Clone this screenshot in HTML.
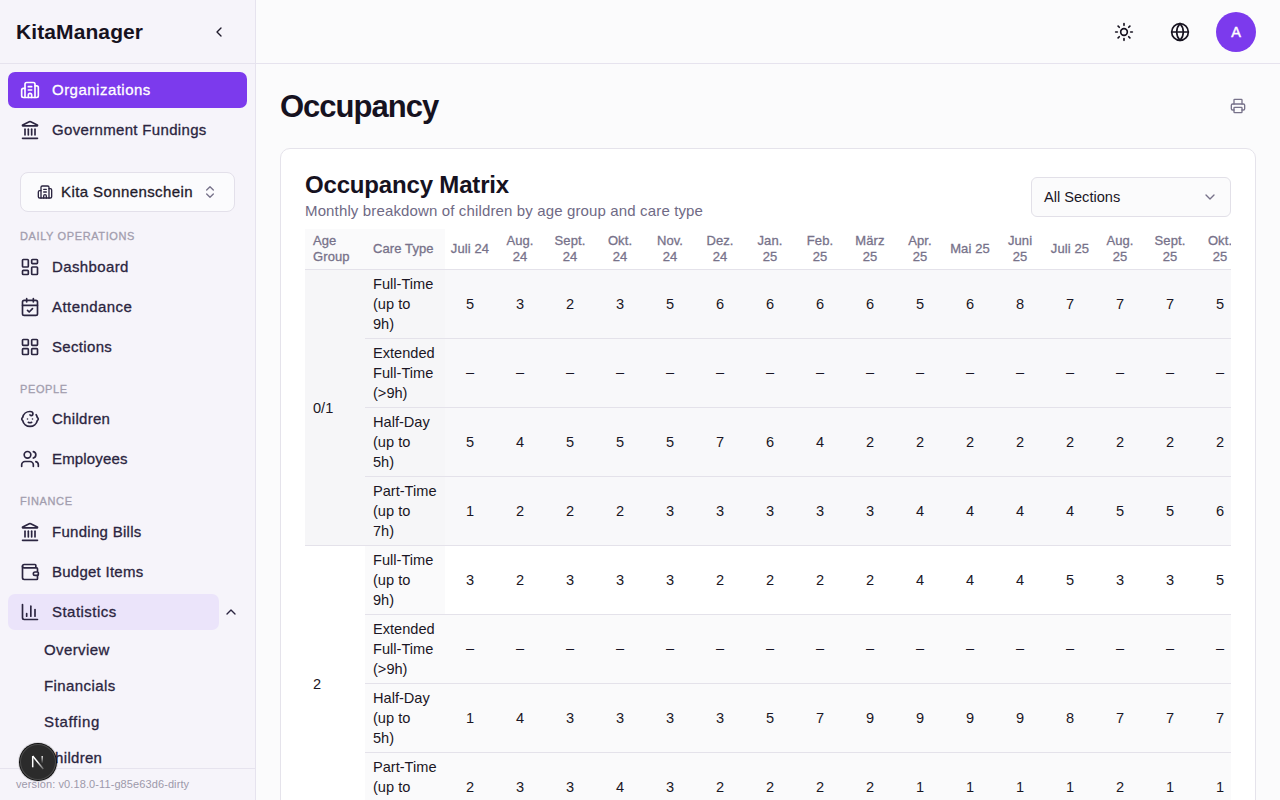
<!DOCTYPE html>
<html lang="en">
<head>
<meta charset="utf-8">
<title>Occupancy - KitaManager</title>
<style>
*{box-sizing:border-box;margin:0;padding:0}
html,body{width:1280px;height:800px;overflow:hidden}
body{font-family:"Liberation Sans",sans-serif;color:#1a1625;background:#fbfbfc;position:relative}
svg{display:block;fill:none;stroke:currentColor;stroke-width:2;stroke-linecap:round;stroke-linejoin:round}

/* ---------- sidebar ---------- */
#sidebar{position:absolute;left:0;top:0;width:256px;height:800px;background:#f6f4fa;border-right:1px solid #e6e3ee;overflow:hidden}
#brand{position:absolute;left:0;top:0;width:255px;height:64px;border-bottom:1px solid #e6e3ee}
#brand .name{position:absolute;left:16px;top:19px;font-size:21px;font-weight:700;letter-spacing:.1px;color:#16121f;line-height:26px}
#brand .collapse{position:absolute;left:211px;top:24px;width:16px;height:16px;color:#1f1a2b}
.nav{position:absolute;left:8px;width:239px;height:36px;border-radius:7px;color:#2b2540;font-size:15px;font-weight:400;-webkit-text-stroke:.3px currentColor}
.nav svg{position:absolute;left:12px;top:8px;width:20px;height:20px}
.nav span{position:absolute;left:44px;top:0;line-height:35px;white-space:nowrap;letter-spacing:.45px}
.nav.active{background:#7c3aed;color:#fff}
.nav.soft{background:#ebe4fa;width:211px}
.grp{position:absolute;left:20px;font-size:11px;font-weight:400;-webkit-text-stroke:.3px currentColor;letter-spacing:.62px;color:#a29dae;line-height:14px;text-transform:uppercase}
.sub{position:absolute;left:44px;font-size:15px;font-weight:400;-webkit-text-stroke:.3px currentColor;color:#2b2540;line-height:20px;letter-spacing:.45px;white-space:nowrap}
#orgsel{position:absolute;left:20px;top:172px;width:215px;height:40px;border:1px solid #e3e0ea;border-radius:8px;background:#fbfbfd}
#orgsel .ic{position:absolute;left:16px;top:11px;width:16px;height:16px;color:#2b2540}
#orgsel .tx{position:absolute;left:40px;top:0;line-height:38px;font-size:15px;font-weight:400;-webkit-text-stroke:.3px currentColor;color:#1f1a2b;letter-spacing:.4px;white-space:nowrap}
#orgsel .ch{position:absolute;left:181px;top:11px;width:16px;height:16px;color:#77728a}
#foot{position:absolute;left:0;top:768px;width:255px;height:32px;border-top:1px solid #e6e3ee;background:#f6f4fa}
#foot span{position:absolute;left:16px;top:8px;font-size:11px;line-height:14px;color:#9d99aa;letter-spacing:.1px;white-space:nowrap}
#nbadge{position:absolute;left:20px;top:744px;width:36px;height:36px;border-radius:50%;background:#2b2b2b;box-shadow:inset 0 0 0 1px #4a4a4a,0 0 0 1px #0c0c0c,0 0 0 2px rgba(0,0,0,.12)}
#nbadge svg{position:absolute;left:0;top:0;width:36px;height:36px;stroke-width:1.5;stroke-linecap:butt}

/* ---------- header ---------- */
#top{position:absolute;left:256px;top:0;width:1024px;height:64px;border-bottom:1px solid #e6e3ee;background:#fbfbfc}
#top .sun{position:absolute;left:858px;top:22px;width:20px;height:20px;color:#16121f}
#top .globe{position:absolute;left:914px;top:22px;width:20px;height:20px;color:#16121f}
#avatar{position:absolute;left:960px;top:12px;width:40px;height:40px;border-radius:50%;background:#7c3aed;color:#fff;font-size:14.5px;font-weight:400;-webkit-text-stroke:.45px #fff;text-align:center;line-height:40px}

/* ---------- main ---------- */
#h1{position:absolute;left:280px;top:87px;font-size:31px;font-weight:700;line-height:40px;color:#16121f;letter-spacing:-1px;white-space:nowrap}
#print{position:absolute;left:1230px;top:98px;width:16px;height:16px;color:#77728a}
#card{position:absolute;left:280px;top:148px;width:976px;height:700px;background:#fff;border:1px solid #e5e3eb;border-radius:10px}
#ctitle{position:absolute;left:305px;top:169px;font-size:24px;font-weight:700;line-height:32px;color:#16121f;white-space:nowrap;letter-spacing:-.17px}
#csub{position:absolute;left:305px;top:201px;font-size:15px;line-height:20px;color:#6f6a85;white-space:nowrap;letter-spacing:.14px}
#sel{position:absolute;left:1031px;top:177px;width:200px;height:40px;border:1px solid #e2e0e8;border-radius:6px;background:#fbfbfc}
#sel span{position:absolute;left:12px;top:0;line-height:38px;font-size:14.6px;color:#1a1625;white-space:nowrap}
#sel svg{position:absolute;left:170px;top:11px;width:16px;height:16px;color:#77728a}

/* ---------- table ---------- */
#tw{position:absolute;left:305px;top:229px;width:926px;height:571px;overflow:hidden}
table{border-collapse:separate;border-spacing:0;table-layout:fixed;width:1040px}
th,td{height:69px;border-bottom:1px solid #e4e2ea;font-size:14.6px;line-height:20px;text-align:center;vertical-align:middle;font-weight:400;color:#1a1625;padding:0}
th{height:41px;font-size:13px;line-height:16px;color:#77728a;font-weight:400;-webkit-text-stroke:.3px currentColor;letter-spacing:.1px}
th.l,td.l{text-align:left;padding-left:8px}
col.a{width:60px}col.c{width:80px}col.m{width:50px}

tr.hd th.s{background:#fafafb}
tr.g1 td{background:#f8f8fa}
tr.g1 td.ct{background:#f6f6f8}
tr.g1 td.ag{background:#f6f6f8}
td.d{padding-bottom:2px}
tr.g2 td{background:#fafafb}
tr.g2.first td{background:#fff}
tr.g2 td.ct{background:#fafafb}
tr.g2 td.ag{background:#fff}
</style>
</head>
<body>

<div id="sidebar">
  <div id="brand">
    <div class="name">KitaManager</div>
    <svg class="collapse" viewBox="0 0 24 24"><path d="m15 18-6-6 6-6"/></svg>
  </div>
  <div class="nav active" style="top:72px"><svg viewBox="0 0 24 24"><path d="M10 12h4"/><path d="M10 8h4"/><path d="M14 21v-3a2 2 0 0 0-4 0v3"/><path d="M6 10H4a2 2 0 0 0-2 2v7a2 2 0 0 0 2 2h16a2 2 0 0 0 2-2V9a2 2 0 0 0-2-2h-2"/><path d="M6 21V5a2 2 0 0 1 2-2h8a2 2 0 0 1 2 2v16"/></svg><span style="letter-spacing:0.48px">Organizations</span></div>
  <div class="nav " style="top:112px"><svg viewBox="0 0 24 24"><path d="M10 18v-7"/><path d="M11.12 2.198a2 2 0 0 1 1.760.006l7.866 3.847c.476.233.31.949-.22.949H3.474c-.53 0-.695-.716-.22-.949z"/><path d="M14 18v-7"/><path d="M18 18v-7"/><path d="M3 22h18"/><path d="M6 18v-7"/></svg><span style="letter-spacing:0.33px">Government Fundings</span></div>
  <div id="orgsel"><svg class="ic" viewBox="0 0 24 24"><path d="M10 12h4"/><path d="M10 8h4"/><path d="M14 21v-3a2 2 0 0 0-4 0v3"/><path d="M6 10H4a2 2 0 0 0-2 2v7a2 2 0 0 0 2 2h16a2 2 0 0 0 2-2V9a2 2 0 0 0-2-2h-2"/><path d="M6 21V5a2 2 0 0 1 2-2h8a2 2 0 0 1 2 2v16"/></svg><div class="tx">Kita Sonnenschein</div><svg class="ch" viewBox="0 0 24 24"><path d="m7 15 5 5 5-5"/><path d="m7 9 5-5 5 5"/></svg></div>
  <div class="grp" style="top:229px">Daily Operations</div>
  <div class="nav " style="top:249px"><svg viewBox="0 0 24 24"><rect width="7" height="9" x="3" y="3" rx="1"/><rect width="7" height="5" x="14" y="3" rx="1"/><rect width="7" height="9" x="14" y="12" rx="1"/><rect width="7" height="5" x="3" y="16" rx="1"/></svg><span style="letter-spacing:0.37px">Dashboard</span></div>
  <div class="nav " style="top:289px"><svg viewBox="0 0 24 24"><path d="M8 2v4"/><path d="M16 2v4"/><rect width="18" height="18" x="3" y="4" rx="2"/><path d="M3 10h18"/><path d="m9 16 2 2 4-4"/></svg><span style="letter-spacing:0.43px">Attendance</span></div>
  <div class="nav " style="top:329px"><svg viewBox="0 0 24 24"><rect width="7" height="7" x="3" y="3" rx="1"/><rect width="7" height="7" x="14" y="3" rx="1"/><rect width="7" height="7" x="14" y="14" rx="1"/><rect width="7" height="7" x="3" y="14" rx="1"/></svg><span style="letter-spacing:0.33px">Sections</span></div>
  <div class="grp" style="top:382px">People</div>
  <div class="nav " style="top:401px"><svg viewBox="0 0 24 24"><path d="M10 16c.5.3 1.200.5 2 .5s1.500-.2 2-.5"/><path d="M15 12h.01"/><path d="M19.380 6.813A9 9 0 0 1 20.800 10.200a2 2 0 0 1 0 3.600 9 9 0 0 1-17.600 0 2 2 0 0 1 0-3.600A9 9 0 0 1 12 3c2 0 3.500 1.100 3.500 2.500s-.9 2.500-2 2.500c-.8 0-1.500-.4-1.500-1"/><path d="M9 12h.01"/></svg><span style="letter-spacing:0.29px">Children</span></div>
  <div class="nav " style="top:441px"><svg viewBox="0 0 24 24"><path d="M16 21v-2a4 4 0 0 0-4-4H6a4 4 0 0 0-4 4v2"/><circle cx="9" cy="7" r="4"/><path d="M22 21v-2a4 4 0 0 0-3-3.870"/><path d="M16 3.130a4 4 0 0 1 0 7.750"/></svg><span style="letter-spacing:0.15px">Employees</span></div>
  <div class="grp" style="top:494px">Finance</div>
  <div class="nav " style="top:514px"><svg viewBox="0 0 24 24"><path d="M10 18v-7"/><path d="M11.12 2.198a2 2 0 0 1 1.760.006l7.866 3.847c.476.233.31.949-.22.949H3.474c-.53 0-.695-.716-.22-.949z"/><path d="M14 18v-7"/><path d="M18 18v-7"/><path d="M3 22h18"/><path d="M6 18v-7"/></svg><span style="letter-spacing:0.29px">Funding Bills</span></div>
  <div class="nav " style="top:554px"><svg viewBox="0 0 24 24"><path d="M19 7V4a1 1 0 0 0-1-1H5a2 2 0 0 0 0 4h15a1 1 0 0 1 1 1v4h-3a2 2 0 0 0 0 4h3a1 1 0 0 0 1-1v-2a1 1 0 0 0-1-1"/><path d="M3 5v14a2 2 0 0 0 2 2h15a1 1 0 0 0 1-1v-4"/></svg><span style="letter-spacing:0.25px">Budget Items</span></div>
  <div class="nav soft" style="top:594px"><svg viewBox="0 0 24 24"><path d="M3 3v16a2 2 0 0 0 2 2h16"/><path d="M18 17V9"/><path d="M13 17V5"/><path d="M8 17v-3"/></svg><span style="letter-spacing:0.46px">Statistics</span></div>
  <svg style="position:absolute;left:223px;top:604px;width:16px;height:16px;color:#2b2540" viewBox="0 0 24 24"><path d="m18 15-6-6-6 6"/></svg>
  <div class="sub" style="top:640px;letter-spacing:0.4px">Overview</div>
  <div class="sub" style="top:676px;letter-spacing:0.42px">Financials</div>
  <div class="sub" style="top:712px;letter-spacing:0.67px">Staffing</div>
  <div class="sub" style="top:748px;letter-spacing:0.29px">Children</div>
  <div id="foot"><span>version: v0.18.0-11-g85e63d6-dirty</span></div>
  <div id="nbadge"><svg viewBox="0 0 36 36"><defs><linearGradient id="ng1" gradientUnits="userSpaceOnUse" x1="17" y1="18" x2="23.300" y2="25"><stop offset="0" stop-color="#fff"/><stop offset="1" stop-color="#fff" stop-opacity=".25"/></linearGradient><linearGradient id="ng2" gradientUnits="userSpaceOnUse" x1="22" y1="12" x2="22" y2="19.500"><stop offset="0" stop-color="#fff" stop-opacity=".9"/><stop offset="1" stop-color="#fff" stop-opacity="0"/></linearGradient></defs><path d="M12.700 23.300V12" stroke="#fff"/><path d="M12.700 12L23.300 25" stroke="url(#ng1)"/><path d="M22.200 12V19.500" stroke="url(#ng2)"/></svg></div>
</div>

<div id="top">
  <svg class="sun" viewBox="0 0 24 24"><circle cx="12" cy="12" r="4"/><path d="M12 2v2"/><path d="M12 20v2"/><path d="m4.930 4.930 1.410 1.410"/><path d="m17.660 17.660 1.410 1.410"/><path d="M2 12h2"/><path d="M20 12h2"/><path d="m6.340 17.660-1.410 1.410"/><path d="m19.070 4.930-1.410 1.410"/></svg>
  <svg class="globe" viewBox="0 0 24 24"><circle cx="12" cy="12" r="10"/><path d="M12 2a14.500 14.500 0 0 0 0 20 14.500 14.500 0 0 0 0-20"/><path d="M2 12h20"/></svg>
  <div id="avatar">A</div>
</div>

<div id="h1">Occupancy</div>
<svg id="print" viewBox="0 0 24 24"><path d="M6 18H4a2 2 0 0 1-2-2v-5a2 2 0 0 1 2-2h16a2 2 0 0 1 2 2v5a2 2 0 0 1-2 2h-2"/><path d="M6 9V3a1 1 0 0 1 1-1h10a1 1 0 0 1 1 1v6"/><rect x="6" y="14" width="12" height="8" rx="1"/></svg>
<div id="card"></div>
<div id="ctitle">Occupancy Matrix</div>
<div id="csub">Monthly breakdown of children by age group and care type</div>
<div id="sel"><span>All Sections</span><svg viewBox="0 0 24 24"><path d="m6 9 6 6 6-6"/></svg></div>
<div id="tw"><table>
<colgroup><col class="a"><col class="c"><col class="m"><col class="m"><col class="m"><col class="m"><col class="m"><col class="m"><col class="m"><col class="m"><col class="m"><col class="m"><col class="m"><col class="m"><col class="m"><col class="m"><col class="m"><col class="m"><col class="m"><col class="m"></colgroup>
<tr class="hd"><th class="l s">Age<br>Group</th><th class="l s">Care Type</th><th>Juli&nbsp;24</th><th>Aug.<br>24</th><th>Sept.<br>24</th><th>Okt.<br>24</th><th>Nov.<br>24</th><th>Dez.<br>24</th><th>Jan.<br>25</th><th>Feb.<br>25</th><th>März<br>25</th><th>Apr.<br>25</th><th>Mai&nbsp;25</th><th>Juni<br>25</th><th>Juli&nbsp;25</th><th>Aug.<br>25</th><th>Sept.<br>25</th><th>Okt.<br>25</th><th>Nov.<br>25</th><th>Dez.<br>25</th></tr>
<tr class="g1 first"><td class="l ag" rowspan="4">0/1</td><td class="l ct">Full-Time<br>(up to<br>9h)</td><td>5</td><td>3</td><td>2</td><td>3</td><td>5</td><td>6</td><td>6</td><td>6</td><td>6</td><td>5</td><td>6</td><td>8</td><td>7</td><td>7</td><td>7</td><td>5</td><td>5</td><td>5</td></tr>
<tr class="g1"><td class="l ct">Extended<br>Full-Time<br>(&gt;9h)</td><td class="d">–</td><td class="d">–</td><td class="d">–</td><td class="d">–</td><td class="d">–</td><td class="d">–</td><td class="d">–</td><td class="d">–</td><td class="d">–</td><td class="d">–</td><td class="d">–</td><td class="d">–</td><td class="d">–</td><td class="d">–</td><td class="d">–</td><td class="d">–</td><td class="d">–</td><td class="d">–</td></tr>
<tr class="g1"><td class="l ct">Half-Day<br>(up to<br>5h)</td><td>5</td><td>4</td><td>5</td><td>5</td><td>5</td><td>7</td><td>6</td><td>4</td><td>2</td><td>2</td><td>2</td><td>2</td><td>2</td><td>2</td><td>2</td><td>2</td><td>2</td><td>2</td></tr>
<tr class="g1"><td class="l ct">Part-Time<br>(up to<br>7h)</td><td>1</td><td>2</td><td>2</td><td>2</td><td>3</td><td>3</td><td>3</td><td>3</td><td>3</td><td>4</td><td>4</td><td>4</td><td>4</td><td>5</td><td>5</td><td>6</td><td>6</td><td>6</td></tr>
<tr class="g2 first"><td class="l ag" rowspan="4">2</td><td class="l ct">Full-Time<br>(up to<br>9h)</td><td>3</td><td>2</td><td>3</td><td>3</td><td>3</td><td>2</td><td>2</td><td>2</td><td>2</td><td>4</td><td>4</td><td>4</td><td>5</td><td>3</td><td>3</td><td>5</td><td>5</td><td>5</td></tr>
<tr class="g2"><td class="l ct">Extended<br>Full-Time<br>(&gt;9h)</td><td class="d">–</td><td class="d">–</td><td class="d">–</td><td class="d">–</td><td class="d">–</td><td class="d">–</td><td class="d">–</td><td class="d">–</td><td class="d">–</td><td class="d">–</td><td class="d">–</td><td class="d">–</td><td class="d">–</td><td class="d">–</td><td class="d">–</td><td class="d">–</td><td class="d">–</td><td class="d">–</td></tr>
<tr class="g2"><td class="l ct">Half-Day<br>(up to<br>5h)</td><td>1</td><td>4</td><td>3</td><td>3</td><td>3</td><td>3</td><td>5</td><td>7</td><td>9</td><td>9</td><td>9</td><td>9</td><td>8</td><td>7</td><td>7</td><td>7</td><td>7</td><td>7</td></tr>
<tr class="g2"><td class="l ct">Part-Time<br>(up to<br>7h)</td><td>2</td><td>3</td><td>3</td><td>4</td><td>3</td><td>2</td><td>2</td><td>2</td><td>2</td><td>1</td><td>1</td><td>1</td><td>1</td><td>2</td><td>1</td><td>1</td><td>1</td><td>1</td></tr>
</table></div>

</body>
</html>
